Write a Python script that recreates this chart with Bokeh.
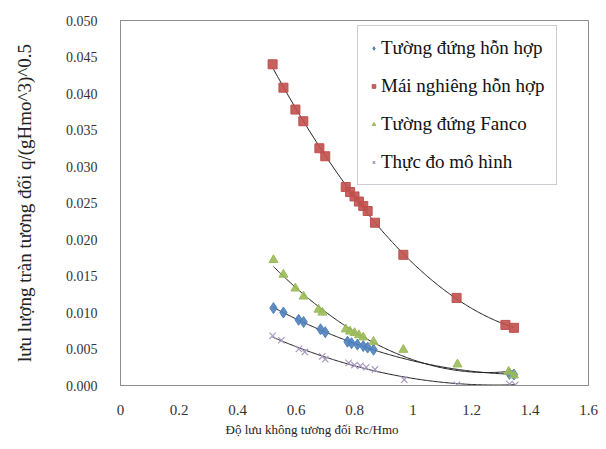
import numpy as np
from bokeh.plotting import figure
from bokeh.models import Range1d, FixedTicker, CustomJSTickFormatter, Legend, LegendItem, Title
from bokeh.embed import file_html
from bokeh.resources import INLINE

# ---- data ----
blue_name = "Tường đứng hỗn hợp"
blue_x = [0.523, 0.557, 0.609, 0.626, 0.684, 0.700, 0.776, 0.790, 0.810, 0.830, 0.845, 0.865, 1.330, 1.345]
blue_y = [0.0106, 0.0100, 0.0090, 0.0087, 0.0077, 0.0073, 0.0060, 0.0058, 0.0056, 0.0054, 0.0052, 0.0049, 0.0016, 0.0015]

red_name = "Mái nghiêng hỗn hợp"
red_x = [0.520, 0.557, 0.598, 0.625, 0.680, 0.700, 0.770, 0.785, 0.800, 0.815, 0.830, 0.845, 0.870, 0.967, 1.149, 1.316, 1.345]
red_y = [0.0440, 0.0408, 0.0378, 0.0362, 0.0325, 0.0314, 0.0272, 0.0265, 0.0259, 0.0252, 0.0246, 0.0239, 0.0223, 0.0179, 0.0120, 0.0083, 0.0079]

green_name = "Tường đứng Fanco"
green_x = [0.523, 0.557, 0.598, 0.626, 0.677, 0.690, 0.770, 0.785, 0.800, 0.815, 0.830, 0.865, 0.967, 1.152, 1.327, 1.345]
green_y = [0.0172, 0.0152, 0.0133, 0.0122, 0.0104, 0.0100, 0.0077, 0.0074, 0.0072, 0.0069, 0.0066, 0.0060, 0.0049, 0.0029, 0.0019, 0.0014]

purple_name = "Thực đo mô hình"
purple_x = [0.520, 0.550, 0.610, 0.630, 0.690, 0.700, 0.780, 0.800, 0.820, 0.840, 0.870, 0.970, 1.150, 1.330, 1.350]
purple_y = [0.0068, 0.0062, 0.0050, 0.0046, 0.0040, 0.0036, 0.0031, 0.0028, 0.0027, 0.0025, 0.0022, 0.0008, 0.0001, 0.0002, 0.0001]

x_ticks = [0, 0.2, 0.4, 0.6, 0.8, 1.0, 1.2, 1.4, 1.6]
y_ticks = [0.000, 0.005, 0.010, 0.015, 0.020, 0.025, 0.030, 0.035, 0.040, 0.045, 0.050]

x_label = "Độ lưu không tương đối Rc/Hmo"
y_label = "lưu lượng tràn tương đối q/(gHmo^3)^0.5"

FONT = "Liberation Serif"

p = figure(width=598, height=438, output_backend="svg", toolbar_location=None,
           x_range=Range1d(0, 1.6), y_range=Range1d(0, 0.05),
           min_border_left=120, min_border_right=10, min_border_top=20, min_border_bottom=10)

p.outline_line_color = "#8c8c8c"
p.outline_line_width = 1
p.xgrid.visible = False
p.ygrid.visible = False

for ax in (p.xaxis[0], p.yaxis[0]):
    ax.axis_line_color = "#8c8c8c"
    ax.major_tick_line_color = None
    ax.minor_tick_line_color = None
    ax.major_label_text_font = FONT
    ax.major_label_text_font_size = "15px"
    ax.major_label_text_color = "#333333"
    ax.axis_label_text_font = FONT
    ax.axis_label_text_font_style = "normal"
    ax.axis_label_text_color = "#222222"

p.yaxis.axis_label_text_font_size = "19px"
p.yaxis.major_label_text_font_size = "14px"

p.xaxis.ticker = FixedTicker(ticks=x_ticks)
p.yaxis.ticker = FixedTicker(ticks=y_ticks)
p.xaxis.formatter = CustomJSTickFormatter(code="return tick.toFixed(1).replace(/\\.0$/, '');")
p.yaxis.formatter = CustomJSTickFormatter(code="return tick.toFixed(3);")
p.xaxis.major_label_standoff = 13
p.yaxis.major_label_standoff = 17
p.yaxis.axis_label = y_label
p.yaxis.axis_label_standoff = 28

xt = Title(text=x_label, align="left", offset=105, text_font=FONT, text_font_size="13px",
           text_font_style="normal", text_color="#222222", standoff=4)
p.add_layout(xt, "below")

def trend(xs, ys):
    c = np.polyfit(xs, ys, 2)
    xx = np.linspace(min(xs), max(xs), 200)
    return xx, np.polyval(c, xx)

items = []
series = [
    (blue_name, blue_x, blue_y, "diamond", "#4F81BD", 11),
    (red_name, red_x, red_y, "square", "#C0504D", 9),
    (green_name, green_x, green_y, "triangle", "#9BBB59", 9),
    (purple_name, purple_x, purple_y, "x", "#A898C2", 9),
]
for name, xs, ys, mk, col, sz in series:
    xx, yy = trend(xs, ys)
    p.line(xx, yy, line_color="#1a1a1a", line_width=1)
for name, xs, ys, mk, col, sz in series:
    if mk == "x":
        r = p.scatter(xs, ys, marker=mk, size=sz, line_color=col, line_width=1.2)
    else:
        r = p.scatter(xs, ys, marker=mk, size=sz, fill_color=col, line_color=col, fill_alpha=0.9)
    items.append(LegendItem(label=name, renderers=[r]))

legend = Legend(items=items, location=(237, 200))
legend.label_text_font = FONT
legend.label_text_font_size = "19px"
legend.label_text_color = "#111111"
legend.border_line_color = "#9a9aa8"
legend.border_line_width = 1
legend.glyph_width = 9
legend.glyph_height = 20
legend.label_height = 20
legend.label_standoff = 3
legend.spacing = 16
legend.padding = 11
legend.margin = 0
p.add_layout(legend)

open("out.html", "w").write(file_html(p, INLINE))
